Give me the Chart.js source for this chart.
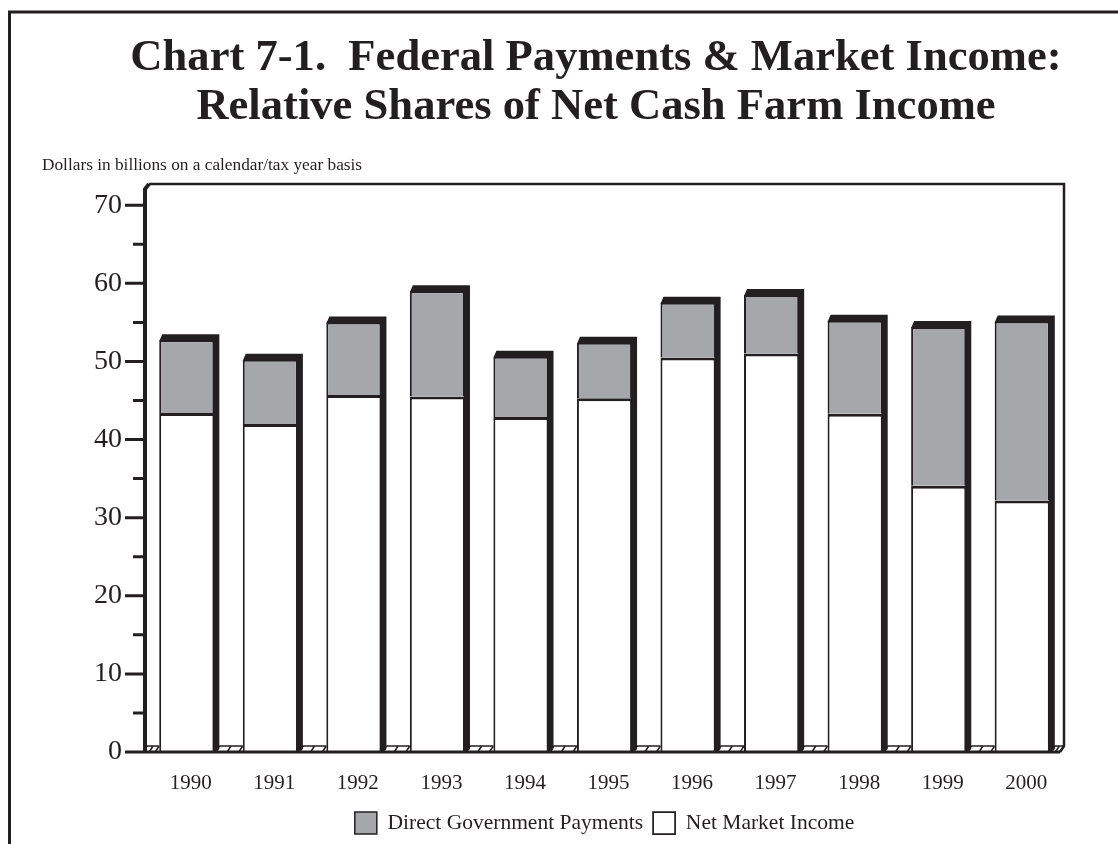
<!DOCTYPE html>
<html>
<head>
<meta charset="utf-8">
<title>Federal Payments &amp; Market Income</title>
<script src="https://cdn.jsdelivr.net/npm/chart.js@4.4.1/dist/chart.umd.min.js"></script>
<style>
  html, body { margin: 0; padding: 0; background: #fff; overflow: hidden; }
  /* the page is a crop of a wider sheet: the title centres on the full sheet */
  #wrap { width: 1118px; height: 844px; overflow: hidden; }
</style>
</head>
<body>
<div id="wrap"><canvas id="chart" width="1192" height="844"></canvas></div>
<script>
  const years = ['1990', '1991', '1992', '1993', '1994', '1995', '1996', '1997', '1998', '1999', '2000'];
  // billions of dollars
  const marketIncome = [43.4, 42.0, 45.7, 45.5, 42.9, 45.3, 50.5, 51.0, 43.3, 34.1, 32.2];
  const govPayments  = [9.3, 8.2, 9.3, 13.5, 7.7, 7.1, 7.0, 7.5, 11.9, 20.3, 22.9];
  const yTicks = [0, 5, 10, 15, 20, 25, 30, 35, 40, 45, 50, 55, 60, 65, 70];

  const titleLines = ['Chart 7-1.  Federal Payments & Market Income:', 'Relative Shares of Net Cash Farm Income'];
  const subtitle = 'Dollars in billions on a calendar/tax year basis';

  const INK = '#231f20';
  const GRAY = '#a6a7aa';
  const SERIF = '"Liberation Serif", "Times New Roman", serif';
  const DX = 5, DY = 6;   // depth of the fake 3d

  const decor = {
    id: 'decor',
    beforeDraw(c) {
      const ctx = c.ctx;
      ctx.save();
      ctx.fillStyle = '#fff';
      ctx.fillRect(0, 0, c.width, c.height);
      // sheet frame (top + left)
      ctx.strokeStyle = INK;
      ctx.lineWidth = 3;
      ctx.beginPath();
      ctx.moveTo(9.5, c.height);
      ctx.lineTo(9.5, 12);
      ctx.lineTo(c.width, 12);
      ctx.stroke();
      ctx.fillStyle = INK;
      ctx.font = '17.3px ' + SERIF;
      ctx.textBaseline = 'middle';
      ctx.fillText(subtitle, 42, 165);
      ctx.restore();
    },
    afterDatasetsDraw(c) {
      const ctx = c.ctx, area = c.chartArea, y = c.scales.y;
      const base = y.getPixelForValue(0);
      const bars = c.getDatasetMeta(1).data;
      ctx.save();
      ctx.fillStyle = INK;
      ctx.strokeStyle = INK;

      // dark top cap + right side on each column
      bars.forEach(b => {
        const l = b.x - b.width / 2, r = b.x + b.width / 2, t = b.y;
        ctx.beginPath();
        ctx.moveTo(l, t + 1);
        ctx.lineTo(l + 3, t - DY);
        ctx.lineTo(r + DX, t - DY);
        ctx.lineTo(r + DX, base - 3);
        ctx.lineTo(r + DX - 3, base);
        ctx.lineTo(r - 1, base);
        ctx.lineTo(r - 1, t + 1);
        ctx.closePath();
        ctx.fill();
      });

      // floor tiles in the gaps
      const edges = [area.left + 2];
      bars.forEach(b => edges.push(b.x - b.width / 2, b.x + b.width / 2 + DX));
      edges.push(area.right);
      ctx.lineWidth = 1.5;
      for (let i = 0; i < edges.length; i += 2) {
        const gs = edges[i], ge = edges[i + 1];
        ctx.beginPath();
        ctx.moveTo(gs, base - DY);
        ctx.lineTo(ge, base - DY);
        [gs, (gs + ge) / 2, ge].forEach(x => {
          ctx.moveTo(x - 4, base);
          ctx.lineTo(x, base - DY);
        });
        ctx.stroke();
      }

      // plot box
      ctx.lineWidth = 2.5;
      ctx.beginPath();
      ctx.moveTo(area.left + 4, area.top);
      ctx.lineTo(area.right, area.top);
      ctx.lineTo(area.right, base - DY);
      ctx.lineTo(area.right - 4, base);
      ctx.stroke();
      ctx.lineWidth = 4;
      ctx.beginPath();
      ctx.moveTo(area.left, base);
      ctx.lineTo(area.left, area.top + 5);
      ctx.lineTo(area.left + 4, area.top);
      ctx.stroke();
      ctx.lineWidth = 3;
      ctx.beginPath();
      ctx.moveTo(area.left, base);
      ctx.lineTo(area.right - 4, base);
      // tick marks, short ones on the fives
      yTicks.forEach(v => {
        const py = y.getPixelForValue(v);
        ctx.moveTo(area.left - (v % 10 ? 12 : 20), py);
        ctx.lineTo(area.left, py);
      });
      ctx.stroke();
      ctx.restore();
    }
  };

  new Chart(document.getElementById('chart'), {
    type: 'bar',
    data: {
      labels: years,
      datasets: [
        {
          label: 'Net Market Income',
          data: marketIncome,
          backgroundColor: '#fff',
          borderColor: INK,
          borderWidth: { top: 3, left: 2, right: 2, bottom: 0 },
          borderSkipped: 'bottom'
        },
        {
          label: 'Direct Government Payments',
          data: govPayments,
          backgroundColor: GRAY,
          borderColor: INK,
          borderWidth: { top: 2, left: 2, right: 2, bottom: 0 },
          borderSkipped: 'bottom'
        }
      ]
    },
    options: {
      responsive: false,
      animation: false,
      categoryPercentage: 1,
      barPercentage: 0.66,
      layout: { padding: 0 },
      scales: {
        x: {
          stacked: true,
          grid: { display: false, drawTicks: false },
          border: { display: false },
          afterFit: s => { s.height = 50; },
          ticks: { padding: 19, labelOffset: 4, color: INK, maxRotation: 0, font: { family: SERIF, size: 21 } }
        },
        y: {
          stacked: true,
          min: 0,
          max: 72.7,
          grid: { display: false, drawTicks: false },
          border: { display: false },
          afterBuildTicks: s => { s.ticks = yTicks.map(v => ({ value: v })); },
          afterFit: s => { s.width = 145; },
          ticks: {
            padding: 23,
            color: INK,
            autoSkip: false,
            font: { family: SERIF, size: 28 },
            callback: v => (v % 10 === 0 ? v : '')
          }
        },
        // empty right-hand margin so the plot ends where the sheet's title centre expects
        rightPad: {
          type: 'linear',
          position: 'right',
          grid: { display: false, drawTicks: false },
          border: { display: false },
          ticks: { display: false },
          afterFit: s => { s.width = 128; }
        }
      },
      plugins: {
        title: {
          display: true,
          text: titleLines,
          color: INK,
          font: { family: SERIF, size: 44.6, weight: 'bold', lineHeight: 1.1 },
          padding: { top: 34, bottom: 52 }
        },
        legend: {
          position: 'bottom',
          fullSize: false,
          reverse: true,
          labels: {
            boxWidth: 22,
            boxHeight: 22,
            padding: 10,
            color: INK,
            font: { family: SERIF, size: 21.5 }
          }
        },
        tooltip: { enabled: false }
      }
    },
    plugins: [decor]
  });
</script>
</body>
</html>
